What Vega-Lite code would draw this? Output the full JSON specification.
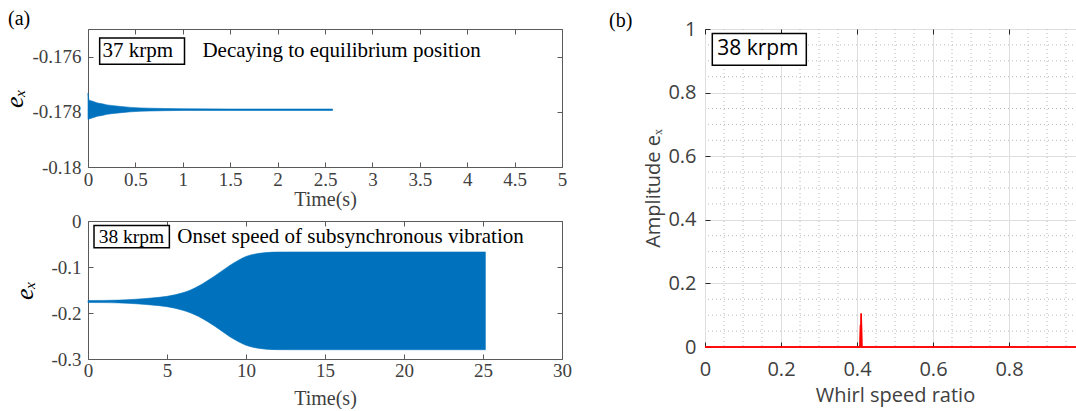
{
  "$schema": "https://vega.github.io/schema/vega-lite/v6.json",
  "autosize": {"type": "pad"},
  "padding": {"left": 1, "top": 8, "right": 0, "bottom": 0},
  "background": "white",
  "config": {
    "axis": {"labelFlush": false, "labelOverlap": false, "domain": false, "grid": false},
    "title": {"fontWeight": "normal"},
    "view": {"strokeWidth": 1}
  },
  "datasets": {
    "topBand": [
      {"t": 0, "lo": -0.17828, "hi": -0.17732},
      {"t": 0.004, "lo": -0.17828, "hi": -0.17745},
      {"t": 0.01, "lo": -0.17826, "hi": -0.17758},
      {"t": 0.05, "lo": -0.17822, "hi": -0.17762},
      {"t": 0.1, "lo": -0.17816, "hi": -0.17768},
      {"t": 0.15, "lo": -0.17813, "hi": -0.17771},
      {"t": 0.2, "lo": -0.17809, "hi": -0.17775},
      {"t": 0.27, "lo": -0.17806, "hi": -0.17778},
      {"t": 0.35, "lo": -0.17803, "hi": -0.17781},
      {"t": 0.45, "lo": -0.178, "hi": -0.17784},
      {"t": 0.55, "lo": -0.17798, "hi": -0.17786},
      {"t": 0.65, "lo": -0.17797, "hi": -0.17787},
      {"t": 0.8, "lo": -0.17796, "hi": -0.17788},
      {"t": 1.0, "lo": -0.17795, "hi": -0.17789},
      {"t": 1.5, "lo": -0.17795, "hi": -0.1779},
      {"t": 2.0, "lo": -0.17795, "hi": -0.1779},
      {"t": 2.58, "lo": -0.17795, "hi": -0.1779}
    ],
    "botBand": [
      {"t": 0, "lo": -0.1772, "hi": -0.1728},
      {"t": 1, "lo": -0.1774, "hi": -0.1726},
      {"t": 2, "lo": -0.178, "hi": -0.172},
      {"t": 3, "lo": -0.1798, "hi": -0.1702},
      {"t": 4, "lo": -0.1825, "hi": -0.1675},
      {"t": 5, "lo": -0.1862, "hi": -0.1638},
      {"t": 5.5, "lo": -0.1895, "hi": -0.1605},
      {"t": 6, "lo": -0.194, "hi": -0.156},
      {"t": 6.5, "lo": -0.1998, "hi": -0.1498},
      {"t": 7, "lo": -0.2075, "hi": -0.1415},
      {"t": 7.5, "lo": -0.2172, "hi": -0.1312},
      {"t": 8, "lo": -0.228, "hi": -0.12},
      {"t": 8.5, "lo": -0.24, "hi": -0.108},
      {"t": 9, "lo": -0.252, "hi": -0.096},
      {"t": 9.5, "lo": -0.2618, "hi": -0.0858},
      {"t": 10, "lo": -0.2701, "hi": -0.0771},
      {"t": 10.5, "lo": -0.2748, "hi": -0.0724},
      {"t": 11, "lo": -0.2776, "hi": -0.0696},
      {"t": 11.5, "lo": -0.2791, "hi": -0.0681},
      {"t": 12, "lo": -0.2797, "hi": -0.0675},
      {"t": 13, "lo": -0.27985, "hi": -0.06735},
      {"t": 25.15, "lo": -0.27985, "hi": -0.06735}
    ],
    "fft": [
      {"r": 0, "a": 0},
      {"r": 0.408, "a": 0},
      {"r": 0.4095, "a": 0.07},
      {"r": 0.4105, "a": 0},
      {"r": 0.411, "a": 0.105},
      {"r": 0.4125, "a": 0},
      {"r": 1, "a": 0}
    ],
    "minor": [
      {"v": 0.05}, {"v": 0.1}, {"v": 0.15}, {"v": 0.25}, {"v": 0.3}, {"v": 0.35},
      {"v": 0.45}, {"v": 0.5}, {"v": 0.55}, {"v": 0.65}, {"v": 0.7}, {"v": 0.75},
      {"v": 0.85}, {"v": 0.9}, {"v": 0.95}
    ],
    "topBox": [{"x1": 0.123, "x2": 1.018, "y1": -0.17533, "y2": -0.17628}],
    "topLabel": [{"label": "37 krpm", "x": 0.154, "y": -0.17578}],
    "topNote": [{"label": "Decaying to equilibrium position", "x": 1.207, "y": -0.17578}],
    "botBox": [{"x1": 0.38, "x2": 5.15, "y1": -0.0098, "y2": -0.058}],
    "botLabel": [{"label": "38 krpm", "x": 0.68, "y": -0.0345}],
    "botNote": [{"label": "Onset speed of subsynchronous vibration", "x": 5.65, "y": -0.0345}],
    "rBox": [{"x1": 0.0192, "x2": 0.2666, "y1": 0.9855, "y2": 0.8858}],
    "rText": [{"label": "38 krpm", "x": 0.032, "y": 0.936}]
  },
  "spacing": 36,
  "hconcat": [
    {
      "bounds": "flush",
      "spacing": 54,
      "vconcat": [
        {
          "width": 474,
          "height": 138,
          "view": {"stroke": "#5a5a5a"},
          "title": {"text": "(a)", "anchor": "start", "frame": "group", "dx": -80, "offset": 0, "font": "Liberation Serif", "fontSize": 20, "color": "#000"},
          "layer": [
            {
              "data": {"name": "topBand"},
              "mark": {"type": "area", "color": "#0072BD", "stroke": "#0072BD", "strokeWidth": 0.6},
              "encoding": {
                "x": {"field": "t", "type": "quantitative", "scale": {"domain": [0, 5], "nice": false},
                  "axis": {"orient": "bottom", "values": [0, 0.5, 1, 1.5, 2, 2.5, 3, 3.5, 4, 4.5, 5], "format": "~g",
                    "title": "Time(s)", "titleFont": "Liberation Serif", "titleFontSize": 20, "titleFontWeight": "normal", "titleColor": "#404040", "titlePadding": 0,
                    "labelFont": "Liberation Serif", "labelFontSize": 19, "labelColor": "#404040", "labelPadding": 8,
                    "tickSize": -5, "tickColor": "#5a5a5a"}},
                "y": {"field": "lo", "type": "quantitative", "scale": {"domain": [-0.18, -0.175], "nice": false, "zero": false},
                  "axis": {"orient": "left", "values": [-0.18, -0.178, -0.176],
                    "labelExpr": "datum.value == 0 ? '0' : '-' + format(-datum.value, '~g')",
                    "title": "eₓ", "titleFont": "Liberation Serif", "titleFontStyle": "italic", "titleFontSize": 26, "titleFontWeight": "normal", "titleColor": "#000", "titlePadding": 4,
                    "labelFont": "Liberation Serif", "labelFontSize": 19, "labelColor": "#404040", "labelPadding": 12,
                    "tickSize": -5, "tickColor": "#5a5a5a"}},
                "y2": {"field": "hi"}
              }
            },
            {
              "data": {"name": "topBox"},
              "mark": {"type": "rect", "fill": "white", "stroke": "#000", "strokeWidth": 1.5},
              "encoding": {
                "x": {"field": "x1", "type": "quantitative", "scale": {"domain": [0, 5], "nice": false},
                  "axis": {"orient": "top", "values": [0, 0.5, 1, 1.5, 2, 2.5, 3, 3.5, 4, 4.5, 5], "labels": false, "title": null, "tickSize": -5, "tickColor": "#5a5a5a"}},
                "x2": {"field": "x2"},
                "y": {"field": "y1", "type": "quantitative", "scale": {"domain": [-0.18, -0.175], "nice": false, "zero": false},
                  "axis": {"orient": "right", "values": [-0.18, -0.178, -0.176], "labels": false, "title": null, "tickSize": -5, "tickColor": "#5a5a5a"}},
                "y2": {"field": "y2"}
              }
            },
            {
              "data": {"name": "topLabel"},
              "mark": {"type": "text", "align": "left", "baseline": "middle", "font": "Liberation Serif", "fontSize": 21, "color": "#000"},
              "encoding": {
                "x": {"field": "x", "type": "quantitative", "scale": {"domain": [0, 5], "nice": false}, "axis": null},
                "y": {"field": "y", "type": "quantitative", "scale": {"domain": [-0.18, -0.175], "nice": false, "zero": false}, "axis": null},
                "text": {"field": "label"}
              }
            },
            {
              "data": {"name": "topNote"},
              "mark": {"type": "text", "align": "left", "baseline": "middle", "font": "Liberation Serif", "fontSize": 21, "color": "#000"},
              "encoding": {
                "x": {"field": "x", "type": "quantitative", "scale": {"domain": [0, 5], "nice": false}, "axis": null},
                "y": {"field": "y", "type": "quantitative", "scale": {"domain": [-0.18, -0.175], "nice": false, "zero": false}, "axis": null},
                "text": {"field": "label"}
              }
            }
          ]
        },
        {
          "width": 474,
          "height": 138,
          "view": {"stroke": "#5a5a5a"},
          "layer": [
            {
              "data": {"name": "botBand"},
              "mark": {"type": "area", "color": "#0072BD", "stroke": "#0072BD", "strokeWidth": 0.6, "interpolate": "monotone"},
              "encoding": {
                "x": {"field": "t", "type": "quantitative", "scale": {"domain": [0, 30], "nice": false},
                  "axis": {"orient": "bottom", "values": [0, 5, 10, 15, 20, 25, 30], "format": "~g",
                    "title": "Time(s)", "titleFont": "Liberation Serif", "titleFontSize": 20, "titleFontWeight": "normal", "titleColor": "#404040", "titlePadding": 8,
                    "labelFont": "Liberation Serif", "labelFontSize": 19, "labelColor": "#404040", "labelPadding": 7,
                    "tickSize": -5, "tickColor": "#5a5a5a"}},
                "y": {"field": "lo", "type": "quantitative", "scale": {"domain": [-0.3, 0], "nice": false, "zero": false},
                  "axis": {"orient": "left", "values": [-0.3, -0.2, -0.1, 0],
                    "labelExpr": "datum.value == 0 ? '0' : '-' + format(-datum.value, '~g')",
                    "title": "eₓ", "titleFont": "Liberation Serif", "titleFontStyle": "italic", "titleFontSize": 26, "titleFontWeight": "normal", "titleColor": "#000", "titlePadding": 13,
                    "labelFont": "Liberation Serif", "labelFontSize": 19, "labelColor": "#404040", "labelPadding": 12,
                    "tickSize": -5, "tickColor": "#5a5a5a"}},
                "y2": {"field": "hi"}
              }
            },
            {
              "data": {"name": "botBox"},
              "mark": {"type": "rect", "fill": "white", "stroke": "#000", "strokeWidth": 1.5},
              "encoding": {
                "x": {"field": "x1", "type": "quantitative", "scale": {"domain": [0, 30], "nice": false},
                  "axis": {"orient": "top", "values": [0, 5, 10, 15, 20, 25, 30], "labels": false, "title": null, "tickSize": -5, "tickColor": "#5a5a5a"}},
                "x2": {"field": "x2"},
                "y": {"field": "y1", "type": "quantitative", "scale": {"domain": [-0.3, 0], "nice": false, "zero": false},
                  "axis": {"orient": "right", "values": [-0.3, -0.2, -0.1, 0], "labels": false, "title": null, "tickSize": -5, "tickColor": "#5a5a5a"}},
                "y2": {"field": "y2"}
              }
            },
            {
              "data": {"name": "botLabel"},
              "mark": {"type": "text", "align": "left", "baseline": "middle", "font": "Liberation Serif", "fontSize": 19.5, "color": "#000"},
              "encoding": {
                "x": {"field": "x", "type": "quantitative", "scale": {"domain": [0, 30], "nice": false}, "axis": null},
                "y": {"field": "y", "type": "quantitative", "scale": {"domain": [-0.3, 0], "nice": false, "zero": false}, "axis": null},
                "text": {"field": "label"}
              }
            },
            {
              "data": {"name": "botNote"},
              "mark": {"type": "text", "align": "left", "baseline": "middle", "font": "Liberation Serif", "fontSize": 21, "color": "#000"},
              "encoding": {
                "x": {"field": "x", "type": "quantitative", "scale": {"domain": [0, 30], "nice": false}, "axis": null},
                "y": {"field": "y", "type": "quantitative", "scale": {"domain": [-0.3, 0], "nice": false, "zero": false}, "axis": null},
                "text": {"field": "label"}
              }
            }
          ]
        }
      ]
    },
    {
      "width": 380,
      "height": 318,
      "view": {"stroke": "#262626"},
      "title": {"text": "(b)", "anchor": "start", "frame": "group", "dx": -96, "dy": 12, "offset": 0, "font": "Liberation Serif", "fontSize": 20, "color": "#000"},
      "resolve": {"axis": {"x": "independent", "y": "independent"}},
      "layer": [
        {
          "data": {"name": "fft"},
          "mark": {"type": "line", "color": "#ff0000", "strokeWidth": 1.5},
          "encoding": {
            "x": {"field": "r", "type": "quantitative", "scale": {"domain": [0, 1], "nice": false},
              "axis": {"orient": "bottom", "values": [0, 0.2, 0.4, 0.6, 0.8], "format": "~g",
                "grid": true, "gridColor": "#dedede", "gridWidth": 1,
                "title": "Whirl speed ratio", "titleFont": "Open Sans", "titleFontSize": 20, "titleFontWeight": "normal", "titleColor": "#404040", "titlePadding": 6,
                "labelFont": "Open Sans", "labelFontSize": 20, "labelColor": "#404040", "labelPadding": 17,
                "tickSize": -5, "tickColor": "#262626"}},
            "y": {"field": "a", "type": "quantitative", "scale": {"domain": [0, 1], "nice": false},
              "axis": {"orient": "left", "values": [0, 0.2, 0.4, 0.6, 0.8, 1], "format": "~g",
                "grid": true, "gridColor": "#dedede", "gridWidth": 1,
                "title": "Amplitude eₓ", "titleFont": "Open Sans", "titleFontSize": 20, "titleFontWeight": "normal", "titleColor": "#404040", "titlePadding": 4,
                "labelFont": "Open Sans", "labelFontSize": 20, "labelColor": "#404040", "labelPadding": 14,
                "tickSize": -5, "tickColor": "#262626"}}
          }
        },
        {
          "data": {"name": "minor"},
          "mark": {"type": "rule", "color": "#b8b8b8", "strokeDash": [1, 3], "strokeWidth": 1},
          "encoding": {"x": {"field": "v", "type": "quantitative", "scale": {"domain": [0, 1], "nice": false}, "axis": null}}
        },
        {
          "data": {"name": "minor"},
          "mark": {"type": "rule", "color": "#b8b8b8", "strokeDash": [1, 3], "strokeWidth": 1},
          "encoding": {"y": {"field": "v", "type": "quantitative", "scale": {"domain": [0, 1], "nice": false}, "axis": null}}
        },
        {
          "data": {"name": "fft"},
          "mark": {"type": "line", "color": "#ff0000", "strokeWidth": 1.5},
          "encoding": {
            "x": {"field": "r", "type": "quantitative", "scale": {"domain": [0, 1], "nice": false}, "axis": null},
            "y": {"field": "a", "type": "quantitative", "scale": {"domain": [0, 1], "nice": false}, "axis": null}
          }
        },
        {
          "data": {"name": "rBox"},
          "mark": {"type": "rect", "fill": "white", "stroke": "#000", "strokeWidth": 1.5},
          "encoding": {
            "x": {"field": "x1", "type": "quantitative", "scale": {"domain": [0, 1], "nice": false},
              "axis": {"orient": "top", "values": [0, 0.2, 0.4, 0.6, 0.8, 1], "labels": false, "title": null, "tickSize": -5, "tickColor": "#262626"}},
            "x2": {"field": "x2"},
            "y": {"field": "y1", "type": "quantitative", "scale": {"domain": [0, 1], "nice": false},
              "axis": {"orient": "right", "values": [0, 0.2, 0.4, 0.6, 0.8, 1], "labels": false, "title": null, "tickSize": -5, "tickColor": "#262626"}},
            "y2": {"field": "y2"}
          }
        },
        {
          "data": {"name": "rText"},
          "mark": {"type": "text", "align": "left", "baseline": "middle", "font": "Open Sans", "fontSize": 21, "color": "#000"},
          "encoding": {
            "x": {"field": "x", "type": "quantitative", "scale": {"domain": [0, 1], "nice": false}, "axis": null},
            "y": {"field": "y", "type": "quantitative", "scale": {"domain": [0, 1], "nice": false}, "axis": null},
            "text": {"field": "label"}
          }
        }
      ]
    }
  ]
}
